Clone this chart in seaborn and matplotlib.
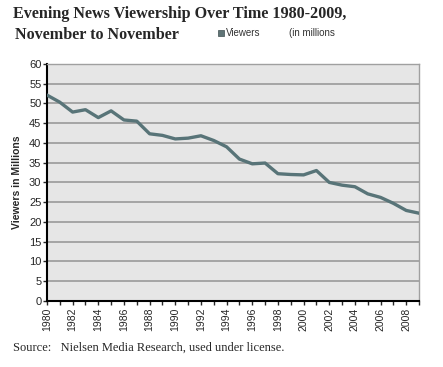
import matplotlib
matplotlib.use("Agg")
import matplotlib.pyplot as plt
import seaborn as sns
import pandas as pd
from matplotlib.ticker import MultipleLocator

# Evening news viewers, millions (Nielsen, November to November)
years = list(range(1980, 2010))
viewers = [52.1, 50.3, 47.8, 48.4, 46.4, 48.1, 45.8, 45.5, 42.3, 41.9,
           41.0, 41.2, 41.8, 40.6, 39.0, 35.9, 34.7, 34.9, 32.2, 32.0,
           31.9, 33.0, 30.0, 29.3, 28.9, 27.1, 26.2, 24.7, 22.9, 22.2]
year_ticks = list(range(1980, 2009, 2))
y_ticks = list(range(0, 61, 5))

df = pd.DataFrame({"year": years, "viewers": viewers})

sns.set_style("white")
plt.rcParams["font.family"] = ["Liberation Sans", "DejaVu Sans"]

fig = plt.figure(figsize=(4.43, 3.67), dpi=100)
ax = fig.add_axes([0.106, 0.180, 0.840, 0.646])
ax.set_facecolor("#e6e6e6")

sns.lineplot(data=df, x="year", y="viewers", ax=ax, color="#587478",
             linewidth=2.4, zorder=3)

ax.set_xlim(1980, 2009)
ax.set_ylim(0, 60)
ax.set_yticks(y_ticks)
ax.set_xticks(year_ticks)
ax.set_xticklabels([str(y) for y in year_ticks], rotation=90, fontsize=7.5)
ax.xaxis.set_minor_locator(MultipleLocator(1))
ax.tick_params(axis="y", labelsize=8, length=3, width=1, pad=1, left=True)
ax.tick_params(axis="x", which="both", length=3, width=1, pad=2, bottom=True)
ax.grid(axis="y", color="#a0a0a0", linewidth=1.3, zorder=1)
ax.set_axisbelow(True)

ax.spines["left"].set_color("black")
ax.spines["left"].set_linewidth(1.5)
ax.spines["bottom"].set_color("black")
ax.spines["bottom"].set_linewidth(1.5)
for side in ("top", "right"):
    ax.spines[side].set_color("#a0a0a0")
    ax.spines[side].set_linewidth(1.0)

ax.set_xlabel("")
ax.set_ylabel("Viewers in Millions", fontsize=7.5, fontweight="bold", labelpad=5)

serif = ["Liberation Serif", "DejaVu Serif"]
fig.text(0.029, 0.962, "Evening News Viewership Over Time 1980-2009,",
         fontsize=11.6, fontweight="bold", family=serif, va="center")
fig.text(0.034, 0.905, "November to November",
         fontsize=11.6, fontweight="bold", family=serif, va="center")

# legend-like label next to the subtitle
fig.patches.append(plt.Rectangle((0.493, 0.902), 0.012, 0.015, facecolor="#5f7476",
                                 edgecolor="#3e4e50", linewidth=0.5,
                                 transform=fig.transFigure, figure=fig))
fig.text(0.510, 0.909, "Viewers", fontsize=7, color="#333333", va="center")
fig.text(0.653, 0.909, "(in millions", fontsize=7, color="#333333", va="center")

fig.text(0.029, 0.052, "Source:   Nielsen Media Research, used under license.",
         fontsize=9, family=serif, va="center")

fig.savefig("out.png", dpi=100)
